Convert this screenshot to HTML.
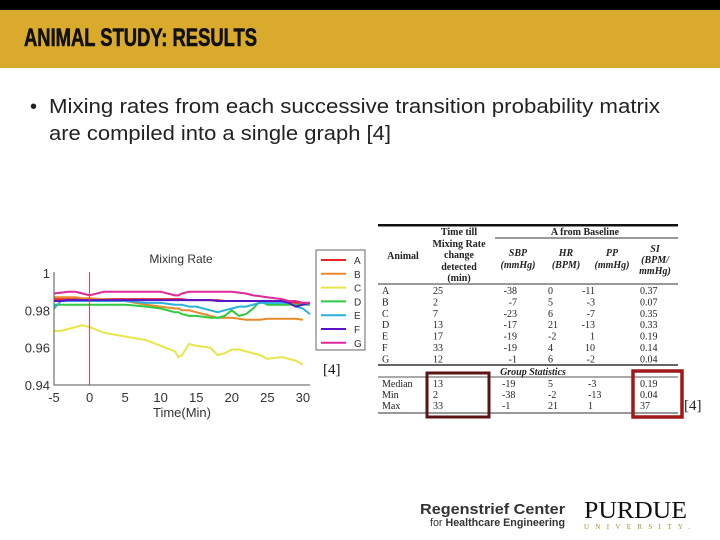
<!DOCTYPE html>
<html><head><meta charset="utf-8"><style>
body{margin:0;width:720px;height:540px;overflow:hidden;background:#fff;font-family:"Liberation Sans",sans-serif}
svg{display:block}
</style></head><body>
<svg width="720" height="540" viewBox="0 0 720 540" xmlns="http://www.w3.org/2000/svg">
<rect x="0" y="0" width="720" height="10" fill="#000"/>
<rect x="0" y="10" width="720" height="58" fill="#d9aa2c"/>
<text x="24" y="46" font-family="Liberation Sans Narrow, Liberation Sans, sans-serif" font-weight="bold" font-size="25" stroke="#111" stroke-width="0.6" textLength="233" lengthAdjust="spacingAndGlyphs" fill="#111">ANIMAL STUDY: RESULTS</text>
<g font-size="20" fill="#222">
<text x="30" y="113">•</text>
<text x="49" y="113" textLength="611" lengthAdjust="spacingAndGlyphs">Mixing rates from each successive transition probability matrix</text>
<text x="49" y="140" textLength="342" lengthAdjust="spacingAndGlyphs">are compiled into a single graph [4]</text>
</g>
<g id="chart"></g>
<g id="table"></g>
<g>
<text x="420" y="514" font-size="15" font-weight="bold" fill="#333" textLength="145" lengthAdjust="spacingAndGlyphs">Regenstrief Center</text>
<text x="430" y="526" font-size="11" fill="#333" textLength="135" lengthAdjust="spacingAndGlyphs">for <tspan font-weight="bold">Healthcare Engineering</tspan></text>
<text x="584" y="518" font-family="Liberation Serif,serif" font-size="24" fill="#111" textLength="103" lengthAdjust="spacingAndGlyphs">PURDUE</text>
<text x="584" y="529" font-family="Liberation Serif,serif" font-size="7" fill="#b08a2a" textLength="106" lengthAdjust="spacing">UNIVERSITY.</text>
</g>
</svg>
<script>
const times=[-5,-4,-3,-2,-1,0,2,5,8,10,12,12.5,13,14,15,17,18,19,20,21,22,23,24,25,27,28,29,30,31];
const seriesNames=['A','B','C','D','E','F','G'];
const seriesColors=['#e8262a','#e8892a','#e6e64a','#2ecc40','#2ab0e0','#5a14c8','#e0289a'];
const valsA=[0.986,0.986,0.986,0.986,0.986,0.986,0.986,0.986,0.986,0.986,0.986,0.986,0.986,0.9855,0.9855,0.9855,0.9855,0.985,0.985,0.985,0.985,0.985,0.985,0.985,0.9845,0.9845,0.984,0.984,0.984];
const valsB=[0.987,0.987,0.987,0.987,0.9865,0.9865,0.986,0.985,0.983,0.982,0.981,0.981,0.980,0.980,0.979,0.977,0.976,0.976,0.976,0.9755,0.975,0.975,0.975,0.9755,0.9755,0.9755,0.9755,0.975,null];
const valsC=[0.969,0.969,0.970,0.971,0.972,0.971,0.968,0.966,0.964,0.961,0.958,0.955,0.956,0.962,0.961,0.960,0.956,0.957,0.959,0.959,0.958,0.957,0.956,0.954,0.955,0.954,0.953,0.951,null];
const valsD=[0.983,0.983,0.983,0.983,0.983,0.983,0.983,0.983,0.982,0.981,0.979,0.979,0.978,0.977,0.977,0.976,0.976,0.977,0.980,0.977,0.978,0.981,0.985,0.983,0.983,0.983,0.983,0.983,0.983];
const valsE=[0.981,0.985,0.985,0.985,0.985,0.985,0.985,0.985,0.984,0.984,0.983,0.983,0.983,0.982,0.982,0.980,0.979,0.980,0.981,0.982,0.982,0.983,0.984,0.984,0.984,0.984,0.982,0.981,0.978];
const valsF=[0.985,0.985,0.9855,0.9855,0.9855,0.9855,0.9855,0.9855,0.9855,0.9855,0.9855,0.9855,0.9855,0.9855,0.9855,0.9855,0.985,0.985,0.985,0.985,0.985,0.985,0.985,0.985,0.985,0.984,0.982,0.983,0.984];
const valsG=[0.989,0.9895,0.990,0.990,0.989,0.988,0.990,0.990,0.990,0.990,0.988,0.988,0.989,0.990,0.990,0.990,0.990,0.990,0.990,0.9895,0.989,0.988,0.9875,0.987,0.986,0.985,0.985,0.984,0.984];
const allVals=[valsA,valsB,valsC,valsD,valsE,valsF,valsG];
const xTicks=[-5,0,5,10,15,20,25,30];
const yTicks=[0.94,0.96,0.98,1];
const yTickLabels=['0.94','0.96','0.98','1'];

const NS='http://www.w3.org/2000/svg';
function mk(tag,attrs,parent){const e=document.createElementNS(NS,tag);for(const k in attrs)e.setAttribute(k,attrs[k]);parent.appendChild(e);return e;}
const X0=54,X1=310,XMIN=-5,XMAX=31,Y0=385,Y1=273,YMIN=0.94,YMAX=1;
const xs=v=>X0+(v-XMIN)/(XMAX-XMIN)*(X1-X0);
const ys=v=>Y0-(v-YMIN)/(YMAX-YMIN)*(Y0-Y1);
const chart=document.getElementById('chart');
let t=mk('text',{x:181,y:263,'font-size':12,'text-anchor':'middle',fill:'#333'},chart);t.textContent='Mixing Rate';


allVals.forEach((vals,i)=>{
  let d='';let pen=false;
  vals.forEach((v,j)=>{if(v===null){pen=false;return;}d+=(pen?'L':'M')+xs(times[j]).toFixed(1)+' '+ys(v).toFixed(1)+' ';pen=true;});
  const p=mk('path',{d:d,fill:'none',stroke:seriesColors[i],'stroke-width':2},chart);
  
  
});
const vl=mk('line',{x1:xs(0),x2:xs(0),y1:272,y2:Y0,stroke:'#d04848','stroke-width':1},chart);


const ax=mk('path',{d:`M${X0} ${Y1-1} L${X0} ${Y0} L${X1} ${Y0}`,fill:'none',stroke:'#555','stroke-width':1},chart);


xTicks.forEach(v=>{
  const tx=mk('text',{x:xs(v),y:Y0+17,'font-size':13,'text-anchor':'middle',fill:'#333'},chart);tx.textContent=v;
  
  
});
yTicks.forEach((v,i)=>{
  const tx=mk('text',{x:X0-4,y:ys(v)+5,'font-size':13,'text-anchor':'end',fill:'#333'},chart);tx.textContent=yTickLabels[i];
  
  
});
t=mk('text',{x:182,y:417,'font-size':13,'text-anchor':'middle',fill:'#333'},chart);t.textContent='Time(Min)';


const lg=mk('g',{},chart);


mk('rect',{x:316,y:250,width:49,height:100,fill:'#fff',stroke:'#666'},lg);
seriesNames.forEach((n,i)=>{
  const y=260+i*13.8;
  const le=mk('g',{},lg);
  
  
  mk('line',{x1:321,x2:346,y1:y,y2:y,stroke:seriesColors[i],'stroke-width':2},le);
  const tx=mk('text',{x:354,y:y+4,'font-size':10,fill:'#333'},le);tx.textContent=n;
});
t=mk('text',{x:323,y:374,'font-size':15,fill:'#111','font-family':'Liberation Serif,serif'},chart);t.textContent='[4]';



const tb=document.getElementById('table');
const serif='Liberation Serif,serif';
function tt(x,y,s,opts){const e=mk('text',Object.assign({x:x,y:y,'font-size':10,'font-family':serif,fill:'#222'},opts||{}),tb);e.textContent=s;return e;}
mk('rect',{x:378,y:224,width:300,height:2.5,fill:'#111'},tb);
mk('line',{x1:495,x2:678,y1:238,y2:238,stroke:'#333'},tb);
mk('line',{x1:378,x2:678,y1:284,y2:284,stroke:'#333'},tb);
mk('line',{x1:378,x2:678,y1:365,y2:365,stroke:'#333','stroke-width':1.5},tb);
mk('line',{x1:378,x2:678,y1:377,y2:377,stroke:'#555'},tb);
mk('line',{x1:378,x2:678,y1:413,y2:413,stroke:'#333'},tb);
const B={'font-weight':'bold','text-anchor':'middle'};
const BI={'font-weight':'bold','font-style':'italic','text-anchor':'middle'};
tt(459,235,'Time till',B);tt(585,235,'A from Baseline',B);
tt(459,247,'Mixing Rate',B);tt(459,258,'change',B);tt(459,270,'detected',B);tt(459,281,'(min)',B);
tt(403,259,'Animal',B);
tt(518,256,'SBP',BI);tt(518,268,'(mmHg)',BI);
tt(566,256,'HR',BI);tt(566,268,'(BPM)',BI);
tt(612,256,'PP',BI);tt(612,268,'(mmHg)',BI);
tt(655,252,'SI',BI);tt(655,263,'(BPM/',BI);tt(655,274,'mmHg)',BI);
const rowLabels=['A','B','C','D','E','F','G'];
const timeCol=['25','2','7','13','17','33','12'];
const sbpCol=['-38','-7','-23','-17','-19','-19','-1'];
const hrCol=['0','5','6','21','-2','4','6'];
const ppCol=['-11','-3','-7','-13','1','10','-2'];
const siCol=['0.37','0.07','0.35','0.33','0.19','0.14','0.04'];
rowLabels.forEach((r,i)=>{
  const y=294+i*11.4;
  tt(382,y,r);tt(433,y,timeCol[i]);tt(517,y,sbpCol[i],{'text-anchor':'end'});
  tt(548,y,hrCol[i]);tt(595,y,ppCol[i],{'text-anchor':'end'});tt(640,y,siCol[i]);
});
tt(533,375,'Group Statistics',{'font-weight':'bold','font-style':'italic','text-anchor':'middle'});
const statLabels=['Median','Min','Max'];
const statTime=['13','2','33'];const statSbp=['-19','-38','-1'];const statHr=['5','-2','21'];const statPp=['-3','-13','1'];const statSi=['0.19','0.04','37'];
statLabels.forEach((r,i)=>{
  const y=387+i*11;
  tt(382,y,r);tt(433,y,statTime[i]);tt(502,y,statSbp[i]);tt(548,y,statHr[i]);tt(588,y,statPp[i]);tt(640,y,statSi[i]);
});
const h1=mk('rect',{x:427,y:373,width:62,height:44,fill:'none',stroke:'#5a1414','stroke-width':3},tb);


const h2=mk('rect',{x:633,y:371,width:49,height:46,fill:'none',stroke:'#a01818','stroke-width':3.5},tb);


const c2=tt(684,410,'[4]',{'font-size':15});


</script>
</body></html>
